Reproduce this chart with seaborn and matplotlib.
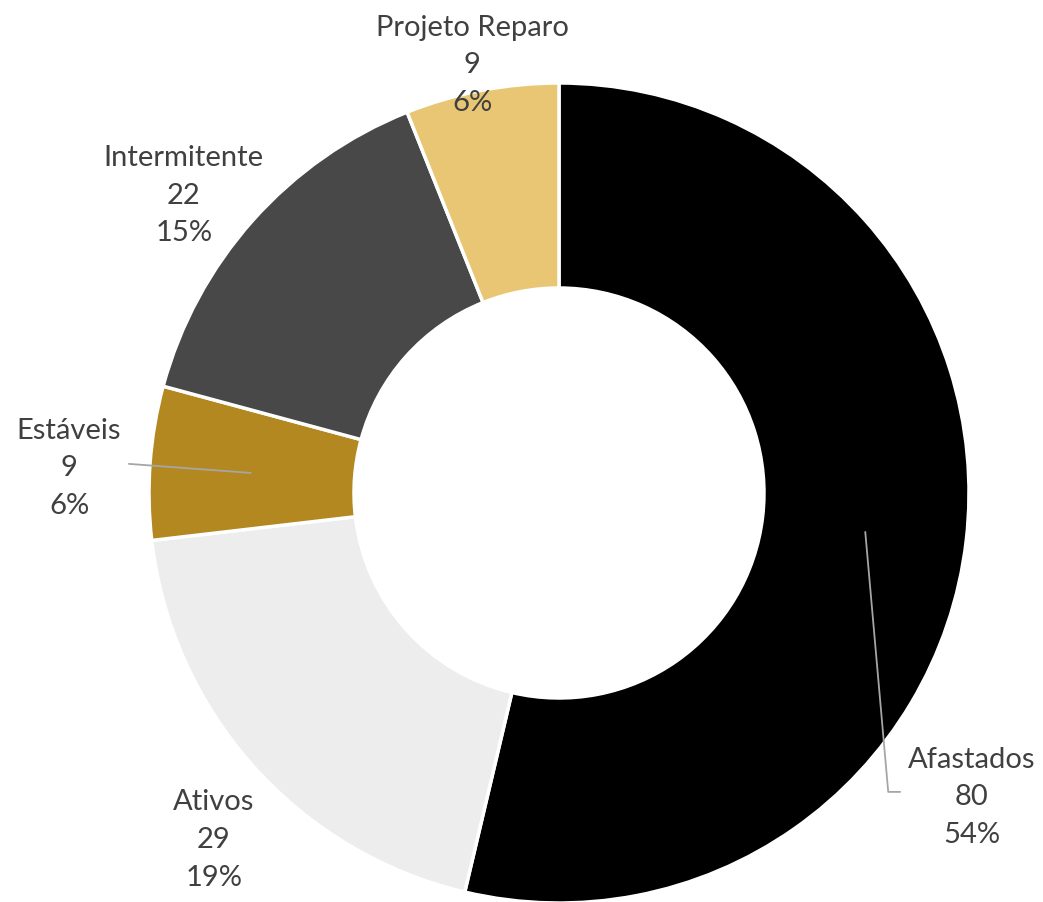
import matplotlib
matplotlib.use("Agg")
import matplotlib.pyplot as plt
import seaborn as sns

# dados do gráfico
categorias = ["Afastados", "Ativos", "Estáveis", "Intermitente", "Projeto Reparo"]
valores = [80, 29, 9, 22, 9]
percentuais = ["54%", "19%", "6%", "15%", "6%"]
cores = ["#000000", "#EDEDED", "#B38820", "#484848", "#E8C674"]

# posições dos rótulos (layout, em unidades do raio)
pos_rotulos = [(1.007, -0.740), (-0.842, -0.844), (-1.195, 0.063), (-0.915, 0.728), (-0.212, 1.046)]

sns.set_theme(style="white")
plt.rcParams["font.family"] = ["Lato", "DejaVu Sans"]

W, H = 1043, 903
fig = plt.figure(figsize=(W / 100, H / 100), dpi=100)
cx, cy, r = 559, 494, 410
ax = fig.add_axes([(cx - r) / W, (H - cy - r) / H, 2 * r / W, 2 * r / H])

ax.pie(valores, colors=cores, startangle=90, counterclock=False, radius=1,
       wedgeprops=dict(width=0.5, edgecolor="white", linewidth=2.5))
ax.set_xlim(-1, 1)
ax.set_ylim(-1, 1)
ax.set_aspect("equal")
ax.axis("off")

for nome, v, p, (x, y) in zip(categorias, valores, percentuais, pos_rotulos):
    ax.text(x, y, f"{nome}\n{v}\n{p}", ha="center", va="center", fontsize=21,
            color="#404040", linespacing=1.55, clip_on=False)

# linhas de chamada
ax.plot([-1.049, -0.752], [0.071, 0.049], color="#A6A6A6", lw=1.3, clip_on=False)
ax.plot([0.747, 0.803, 0.832], [-0.095, -0.729, -0.729], color="#A6A6A6", lw=1.3, clip_on=False)

fig.savefig("out.png", dpi=100)
